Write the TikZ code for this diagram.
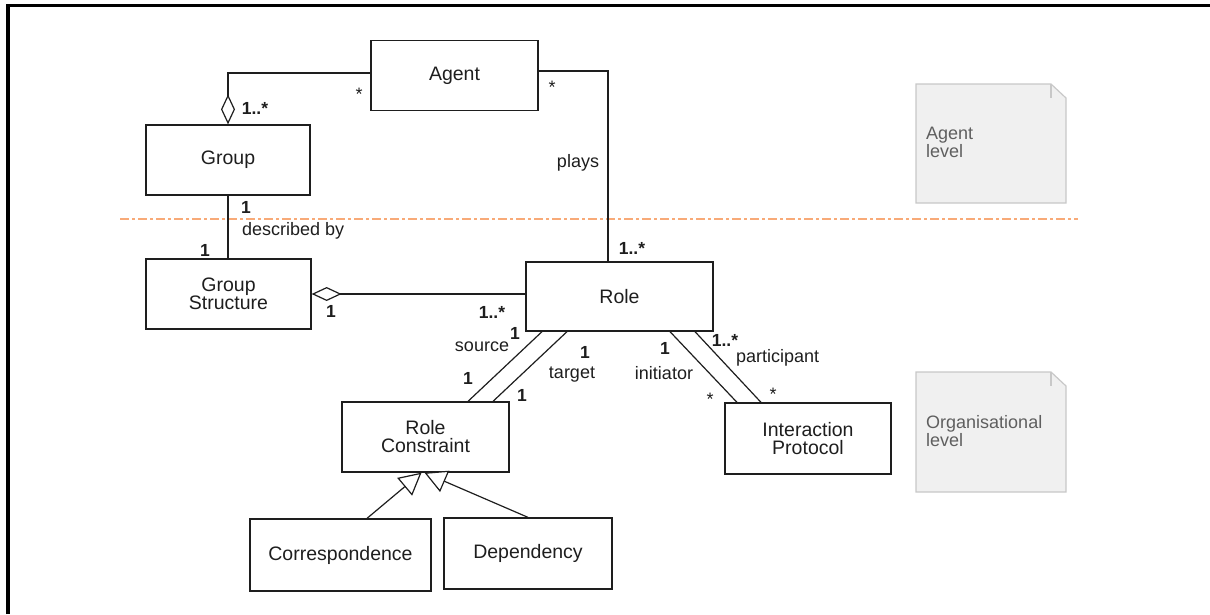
\documentclass[tikz,border=0pt]{standalone}
\usepackage{fontspec}
\setmainfont{Liberation Sans}
\usetikzlibrary{arrows.meta, calc}
\definecolor{levelc}{RGB}{248,170,120}
\definecolor{notefill}{RGB}{240,240,240}
\definecolor{notedraw}{RGB}{200,200,200}
\definecolor{notetext}{RGB}{95,95,95}
\definecolor{inkc}{RGB}{30,30,30}

\begin{document}
\begin{tikzpicture}[x=1pt, y=-1pt,
    cls/.style={draw=inkc, line width=1.3pt, minimum height=70pt, align=center, inner sep=0pt, text=inkc, font=\fontsize{19.5}{18}\selectfont},
    lbl/.style={inner sep=0pt, text=inkc, font=\fontsize{18}{18}\selectfont},
    mult/.style={inner sep=0pt, text=inkc, font=\bfseries\fontsize{17.5}{18}\selectfont},
    assoc/.style={draw=inkc, line width=1.2pt},
    aggr/.style={assoc, {Diamond[open, fill=white, length=30pt, width=14pt]}-},
    gen/.style={assoc, -{Triangle[open, fill=white, length=22pt, width=23pt]}},
    note/.style={draw=notedraw, fill=notefill, line width=1.2pt},
    notetxt/.style={inner sep=0pt, align=left, text=notetext, font=\fontsize{18}{18}\selectfont}]
					\useasboundingbox (0,0) rectangle (1210,614);
					\draw[line width=3.5pt] (8,614) -- (8,5.5) -- (1210,5.5);
					
					% level separator and notes
					\draw[levelc, line width=1.2pt, dash pattern=on 9pt off 3pt on 3pt off 3pt] (120,219) -- (1078,219);
					\draw[note] (916,84) -- (1051,84) -- (1066,98) -- (1066,203) -- (916,203) -- cycle;
					\draw[note] (1051,84) -- (1051,98);
					\node[notetxt, anchor=west] (al) at (926,142) {Agent\\level};
					\draw[note] (916,372) -- (1051,372) -- (1066,386) -- (1066,492) -- (916,492) -- cycle;
					\draw[note] (1051,372) -- (1051,386);
					\node[notetxt, anchor=west] (ol) at (926,431) {Organisational\\level};
					
					\node[cls, minimum width=167pt] (ag) at (454.5,75.5) {Agent};
					\node[cls, minimum width=164pt] (gr) at (228,160) {Group};
					\node[cls, minimum width=165pt] (gs) at (228.5,294) {Group\\Structure};
					\node[cls, minimum width=187pt, minimum height=69pt] (ro) at (619.5,296.5) {Role};
					\node[cls, minimum width=167pt] (rc) at (425.5,437) {Role\\Constraint};
					\node[cls, minimum width=166pt, minimum height=71pt] (ip) at (808,438.5) {Interaction\\Protocol};
					\node[cls, minimum width=181pt, minimum height=72pt] (co) at (340.5,555) {Correspondence};
					\node[cls, minimum width=168pt, minimum height=71pt] (de) at (528,553.5) {Dependency};
					
					\draw[aggr] (gr.north) |- ([yshift=2.5pt]ag.west);
					\draw[assoc] ([yshift=4.5pt]ag.east) -| ([xshift=-11.5pt]ro.north);
					\draw[assoc] (gr.south) -- (gr.south |- gs.north);
					\draw[aggr] (gs.east) -- (gs.east -| ro.west);
					\draw[assoc] ([xshift=-77.5pt]ro.south) -- ([xshift=42.5pt]rc.north);
					\draw[assoc] ([xshift=-52.5pt]ro.south) -- ([xshift=67.5pt]rc.north);
					\draw[assoc] ([xshift=50.5pt]ro.south) -- ([xshift=-71pt]ip.north);
					\draw[assoc] ([xshift=75.5pt]ro.south) -- ([xshift=-47pt]ip.north);
					\draw[gen] ([xshift=26.5pt]co.north) -- ([xshift=-4pt]rc.south);
					\draw[gen] (de.north) -- ([xshift=-1pt]rc.south);
					
					\node[lbl] (s1) at (359,94) {*};
					\node[lbl] (s2) at (552,87) {*};
					\node[mult] (m1) at (255,108) {1..*};
					\node[lbl] (pl) at (578,163) {plays};
					\node[mult] (m2) at (246,207) {1};
					\node[lbl, anchor=west] (db) at (242,231) {described by};
					\node[mult] (m3) at (205,250) {1};
					\node[mult] (m4) at (331,311) {1};
					\node[mult] (m5) at (492,312) {1..*};
					\node[mult] (m6) at (632,248) {1..*};
					\node[mult] (m7) at (515,333) {1};
					\node[lbl] (src) at (482,347) {source};
					\node[mult] (m8) at (468,378) {1};
					\node[mult] (m9) at (585,352) {1};
					\node[lbl] (tg) at (572,375) {target};
					\node[mult] (m10) at (522,395) {1};
					\node[mult] (m11) at (665,348) {1};
					\node[lbl] (ini) at (664,373) {initiator};
					\node[mult] (m12) at (725,340) {1..*};
					\node[lbl, anchor=west] (par) at (736,358) {participant};
					\node[lbl] (s3) at (710,399) {*};
					\node[lbl] (s4) at (773,394) {*};
					\end{tikzpicture}
\end{document}
